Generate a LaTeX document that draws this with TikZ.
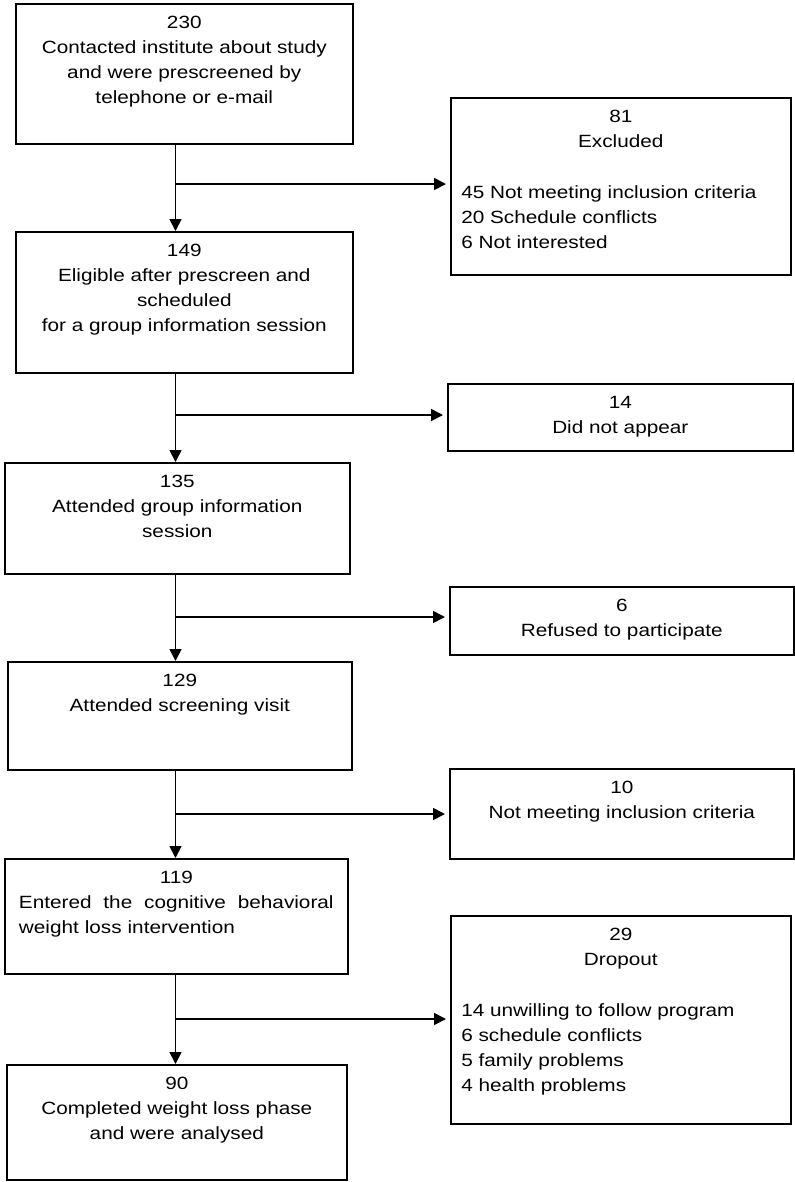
\documentclass[tikz,border=0pt]{standalone}
\usepackage{fontspec}
\setmainfont{Liberation Sans}[FakeStretch=1.17]
\usepackage{tikz}
\usetikzlibrary{arrows.meta}

\begin{document}
\begin{tikzpicture}[x=0.75pt,y=-0.75pt,font=\fontsize{13.3}{18.75}\selectfont]
	\tikzstyle{box}=[draw=black,line width=1.2pt,rectangle,anchor=north west,inner sep=0pt]
	\tikzstyle{head}=[anchor=north,inner sep=0pt,yshift=-9.5pt,align=center]
	\tikzstyle{list}=[anchor=north west,inner sep=0pt,xshift=8.25pt,yshift=-66.5pt,align=left]
	\tikzstyle{arrow}=[line width=1.2pt,-{Triangle[length=9pt,width=9pt]}]

	\useasboundingbox (0,0) rectangle (794,1182);

	% main column
	\node [box,minimum width=252.75pt,minimum height=105pt] (1) at (15,3)
		[label={[head]north:{230\\Contacted institute about study\\and were prescreened by\\telephone or e-mail}}] {};
	\node [box,minimum width=252.75pt,minimum height=105.75pt] (2) at (15,231)
		[label={[head]north:{149\\Eligible after prescreen and\\scheduled\\for a group information session}}] {};
	\node [box,minimum width=258.75pt,minimum height=83.25pt] (3) at (4,462)
		[label={[head]north:{135\\Attended group information\\session}}] {};
	\node [box,minimum width=258pt,minimum height=81pt] (4) at (7,661)
		[label={[head]north:{129\\Attended screening visit}}] {};
	\node [box,minimum width=257.25pt,minimum height=86.25pt] (5) at (4,858)
		[label={[head,align=left,text width=236pt]north:{\makebox[236pt]{119}\\\makebox[236pt][l]{Entered\hfill the\hfill cognitive\hfill behavioral}\\weight loss intervention}}] {};
	\node [box,minimum width=255pt,minimum height=86.25pt] (6) at (6,1064)
		[label={[head]north:{90\\Completed weight loss phase\\and were analysed}}] {};

	% side boxes
	\node [box,minimum width=255pt,minimum height=132.75pt] (7) at (450,97)
		[label={[head]north:{81\\Excluded}},
		 label={[list]north west:{45 Not meeting inclusion criteria\\20 Schedule conflicts\\6 Not interested}}] {};
	\node [box,minimum width=258.75pt,minimum height=50.25pt] (8) at (447,383)
		[label={[head]north:{14\\Did not appear}}] {};
	\node [box,minimum width=258pt,minimum height=51pt] (9) at (449,586)
		[label={[head]north:{6\\Refused to participate}}] {};
	\node [box,minimum width=258pt,minimum height=67.5pt] (10) at (449,768)
		[label={[head]north:{10\\Not meeting inclusion criteria}}] {};
	\node [box,minimum width=255pt,minimum height=156pt] (11) at (450,915)
		[label={[head]north:{29\\Dropout}},
		 label={[list]north west:{14 unwilling to follow program\\6 schedule conflicts\\5 family problems\\4 health problems}}] {};

	% spine and branch points
	\coordinate (c) at (175.5,0);
	\coordinate (b1) at (175.5,184);
	\coordinate (b2) at (175.5,415);
	\coordinate (b3) at (175.5,617);
	\coordinate (b4) at (175.5,814);
	\coordinate (b5) at (175.5,1019);

	\draw [arrow] (1.south -| c) -- (2.north -| c);
	\draw [arrow] (2.south -| c) -- (3.north -| c);
	\draw [arrow] (3.south -| c) -- (4.north -| c);
	\draw [arrow] (4.south -| c) -- (5.north -| c);
	\draw [arrow] (5.south -| c) -- (6.north -| c);

	\draw [arrow,shorten >=3pt] (b1) -- (b1 -| 7.west);
	\draw [arrow,shorten >=3pt] (b2) -- (b2 -| 8.west);
	\draw [arrow,shorten >=3pt] (b3) -- (b3 -| 9.west);
	\draw [arrow,shorten >=3pt] (b4) -- (b4 -| 10.west);
	\draw [arrow,shorten >=3pt] (b5) -- (b5 -| 11.west);
\end{tikzpicture}
\end{document}
